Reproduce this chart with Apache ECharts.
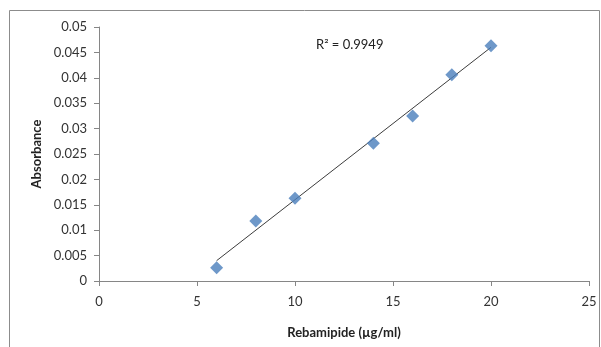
<!DOCTYPE html>
<html>
<head>
<meta charset="utf-8">
<script src="https://cdn.jsdelivr.net/npm/echarts@6/dist/echarts.min.js"></script>
<style>
  html, body { margin: 0; padding: 0; background: #fff; }
  #chart { width: 601px; height: 347px; }
</style>
</head>
<body>
<div id="chart"></div>
<script>
// concentration (µg/ml) and measured absorbance
const concentration = [6, 8, 10, 14, 16, 18, 20];
const absorbance = [0.0026, 0.0118, 0.0163, 0.0271, 0.0325, 0.0406, 0.0463];
// linear trend line end points, as drawn
const trendX = [6, 20];
const trendY = [0.0040, 0.0460];
const rSquaredText = 'R² = 0.9949';

const chart = echarts.init(document.getElementById('chart'), null, { renderer: 'canvas' });

const font = 'Lato, "Open Sans", sans-serif';
const axisColor = '#868686';

chart.setOption({
  backgroundColor: '#fff',
  animation: false,
  grid: { left: 99, right: 12, top: 27, bottom: 66 },
  graphic: [
    {
      type: 'rect',
      shape: { x: 9.5, y: 10.5, width: 590, height: 340 },
      style: { fill: 'none', stroke: '#8c8c8c', lineWidth: 1 },
      z: -1
    },
    {
      type: 'text',
      left: 316,
      top: 38,
      style: { text: rSquaredText, font: '13px ' + font, fill: '#222' }
    }
  ],
  xAxis: {
    type: 'value',
    min: 0,
    max: 25,
    interval: 5,
    name: 'Rebamipide (µg/ml)',
    nameLocation: 'middle',
    nameGap: 45,
    nameTextStyle: { fontFamily: font, fontWeight: 'bold', fontSize: 13, color: '#222' },
    axisLine: { lineStyle: { color: axisColor } },
    axisTick: { show: true, length: 5, lineStyle: { color: axisColor } },
    axisLabel: { fontFamily: font, fontSize: 13, color: '#333', margin: 14 },
    splitLine: { show: false }
  },
  yAxis: {
    type: 'value',
    min: 0,
    max: 0.05,
    interval: 0.005,
    name: 'Absorbance',
    nameLocation: 'middle',
    nameGap: 54,
    nameTextStyle: { fontFamily: font, fontWeight: 'bold', fontSize: 13, color: '#222' },
    axisLine: { show: true, lineStyle: { color: axisColor } },
    axisTick: { show: true, length: 5, lineStyle: { color: axisColor } },
    axisLabel: { fontFamily: font, fontSize: 13, color: '#333', margin: 12,
      formatter: v => String(+v.toFixed(4)) },
    splitLine: { show: false }
  },
  series: [
    {
      type: 'line',
      data: trendX.map((x, i) => [x, trendY[i]]),
      symbol: 'none',
      lineStyle: { color: '#3c3c3c', width: 1 },
      z: 1
    },
    {
      type: 'scatter',
      data: concentration.map((x, i) => [x, absorbance[i]]),
      symbol: 'diamond',
      symbolSize: 13,
      itemStyle: { color: '#4a7ebb' },
      z: 2
    }
  ]
});
</script>
</body>
</html>
